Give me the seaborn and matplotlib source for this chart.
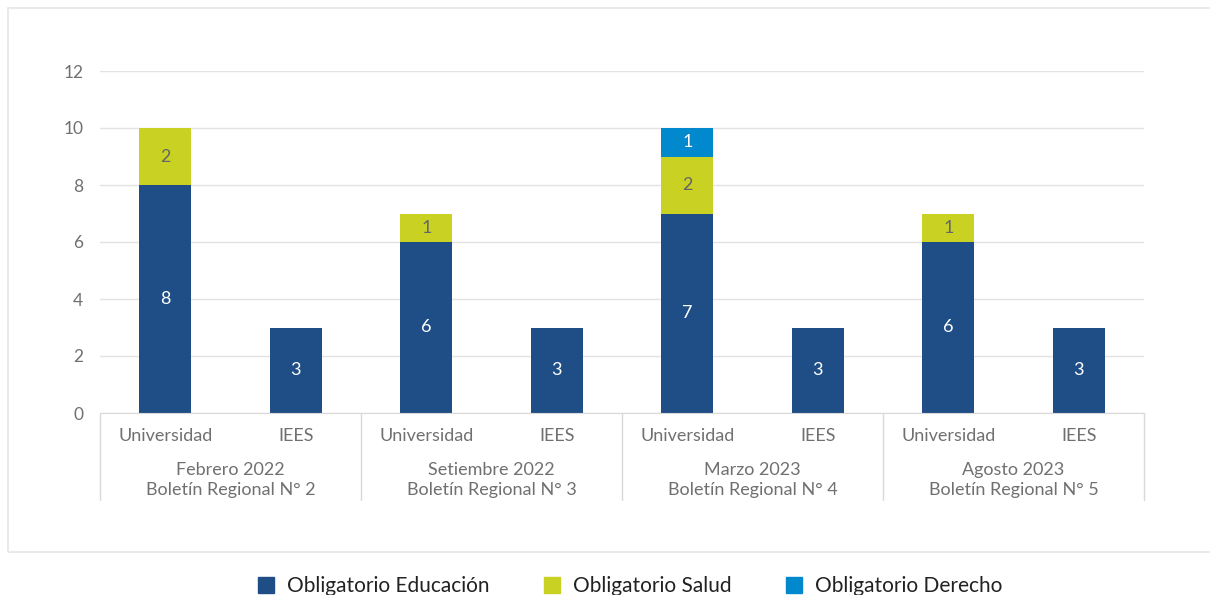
import numpy as np
import pandas as pd
import seaborn as sns
import matplotlib.pyplot as plt
from matplotlib.patches import Rectangle, Patch
from matplotlib.lines import Line2D

# datos
periodos = ['Febrero 2022\nBoletín Regional N° 2', 'Setiembre 2022\nBoletín Regional N° 3',
            'Marzo 2023\nBoletín Regional N° 4', 'Agosto 2023\nBoletín Regional N° 5']
tipos = ['Universidad', 'IEES']
educacion = [8, 3, 6, 3, 7, 3, 6, 3]
salud = [2, 0, 1, 0, 2, 0, 1, 0]
derecho = [0, 0, 0, 0, 1, 0, 0, 0]
series = ['Obligatorio Educación', 'Obligatorio Salud', 'Obligatorio Derecho']
colores = ['#1f4e87', '#c9d122', '#0288cc']
color_texto = ['white', '#666666', 'white']

sns.set_style('white')
plt.rcParams['font.family'] = ['Lato', 'DejaVu Sans']

etiquetas = [f'{p}|{t}' for p in periodos for t in tipos]
df = pd.DataFrame({'cat': etiquetas, 'educ': educacion, 'salud': salud, 'der': derecho})

fig = plt.figure(figsize=(12.1, 5.95), dpi=100)
ax = fig.add_axes([100/1210, 1-413/595, 1044/1210, 342/595])

base = np.zeros(len(df))
for col, nombre, c, tc in zip(['educ', 'salud', 'der'], series, colores, color_texto):
    sns.barplot(data=df, x='cat', y=col, bottom=base, color=c, width=0.4,
                saturation=1, ax=ax, label=nombre, linewidth=0)
    for i, v in enumerate(df[col]):
        if v > 0:
            ax.text(i, base[i] + v/2, str(v), ha='center', va='center',
                    color=tc, fontsize=13)
    base = base + df[col].values

ax.set_ylim(0, 12)
ax.set_xlim(-0.5, len(df) - 0.5)
ax.set_yticks(range(0, 13, 2))
ax.yaxis.grid(True, color='#e3e3e3', linewidth=1)
ax.set_axisbelow(True)
for s in ['top', 'right', 'left']:
    ax.spines[s].set_visible(False)
ax.spines['bottom'].set_color('#d9d9d9')
ax.tick_params(axis='y', length=0, labelsize=12.5, labelcolor='#707070', pad=12)
ax.set_xticks(range(len(df)))
ax.set_xticklabels([e.split('|')[1] for e in etiquetas])
ax.tick_params(axis='x', length=0, labelsize=13, labelcolor='#707070', pad=11)
ax.set_xlabel('')
ax.set_ylabel('')
if ax.get_legend():
    ax.get_legend().remove()

# separadores y etiquetas de grupo
for k in range(len(periodos) + 1):
    x = k*2 - 0.5
    ax.add_line(Line2D([x, x], [0, -3.05], color='#d9d9d9', linewidth=1, clip_on=False))
for k, p in enumerate(periodos):
    ax.text(k*2 + 0.5, -2.35, p, ha='center', va='center', color='#707070',
            fontsize=13, linespacing=1.3)

# marco
fig.patches.append(Rectangle((8/1210, 1-552/595), 1210/1210, 544/595, transform=fig.transFigure,
                             fill=False, edgecolor='#e6e6e6', linewidth=1.2))

handles = [Patch(color=c, label=n) for c, n in zip(colores, series)]
fig.legend(handles=handles, loc='center', bbox_to_anchor=(630/1210, 1-586/595), ncol=3,
           frameon=False, fontsize=15, handlelength=0.8, handleheight=0.8,
           columnspacing=2.6, handletextpad=0.6, labelcolor='#222222')

fig.savefig('out.png', dpi=100)
